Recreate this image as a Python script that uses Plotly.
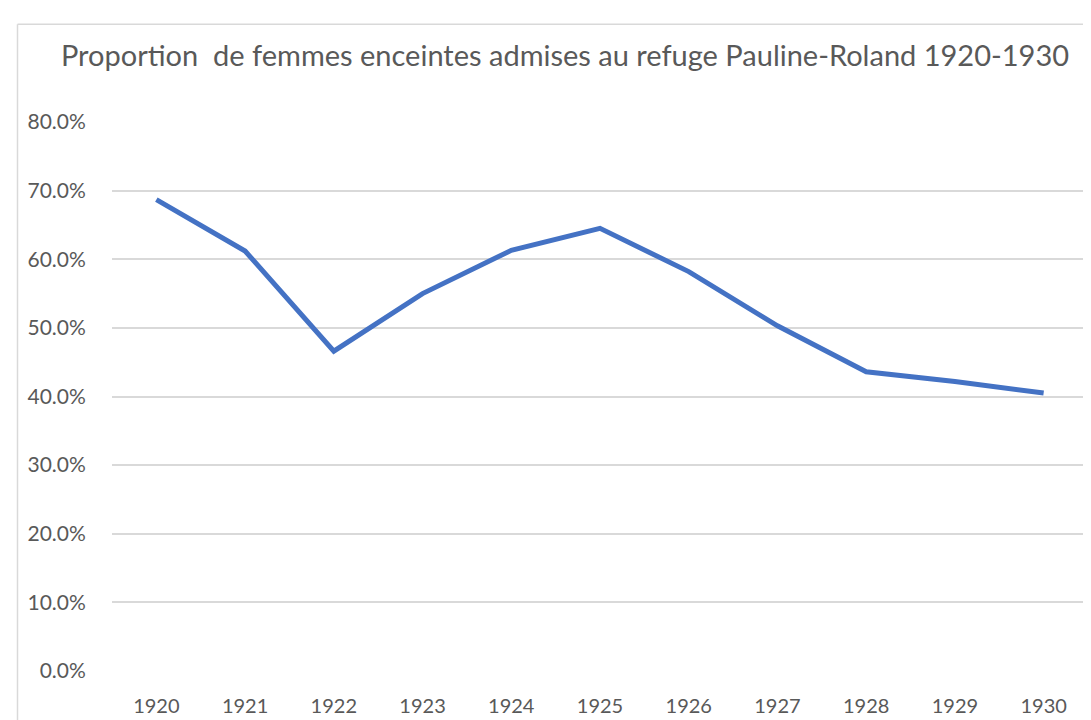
import plotly.graph_objects as go

years = [1920, 1921, 1922, 1923, 1924, 1925, 1926, 1927, 1928, 1929, 1930]
proportion = [0.687, 0.612, 0.466, 0.550, 0.613, 0.645, 0.582, 0.503, 0.436, 0.422, 0.405]
title_text = "Proportion  de femmes enceintes admises au refuge Pauline-Roland 1920-1930"
y_ticks = [0.0, 0.1, 0.2, 0.3, 0.4, 0.5, 0.6, 0.7, 0.8]

W, H = 1091, 720
ML, MR, MT, MB = 104, 11, 114, 50
PW = W - ML - MR
PH = H - MT - MB

def px_x(px):
    return (px - ML) / PW

def px_y(py):
    return (H - MB - py) / PH

font_family = "Lato, 'Open Sans', sans-serif"
grey_text = "#595959"

fig = go.Figure()
fig.add_trace(go.Scatter(
    x=years, y=proportion, mode="lines",
    line=dict(color="#4472C4", width=5),
    showlegend=False,
))

fig.update_layout(
    width=W, height=H,
    margin=dict(l=ML, r=MR, t=MT, b=MB, pad=0),
    paper_bgcolor="white", plot_bgcolor="white",
    title=dict(
        text=title_text,
        x=557 / W, xref="container", xanchor="center",
        y=1 - 48 / H, yref="container", yanchor="middle",
        font=dict(family=font_family, size=29, color=grey_text),
    ),
    xaxis=dict(
        range=[1919.5, 1930.5],
        tickmode="array", tickvals=years, ticktext=[str(y) for y in years],
        showgrid=False, zeroline=False, showline=False,
        ticks="outside", ticklen=17, tickcolor="rgba(0,0,0,0)",
        tickfont=dict(family=font_family, size=20, color=grey_text),
        fixedrange=True,
    ),
    yaxis=dict(
        range=[0, 0.8],
        tickmode="array", tickvals=y_ticks, tickformat=".1%",
        showgrid=True, gridcolor="#D9D9D9", gridwidth=1.5,
        zeroline=False, showline=False,
        ticks="outside", ticklen=21, tickcolor="rgba(0,0,0,0)",
        tickfont=dict(family=font_family, size=21, color=grey_text),
        fixedrange=True,
    ),
    shapes=[
        dict(type="line", xref="paper", yref="paper",
             x0=px_x(9.5), x1=px_x(9.5), y0=px_y(15), y1=px_y(725),
             line=dict(color="#D9D9D9", width=1.5)),
        dict(type="line", xref="paper", yref="paper",
             x0=px_x(9.5), x1=px_x(1095), y0=px_y(15), y1=px_y(15),
             line=dict(color="#D9D9D9", width=1.5)),
    ],
)

fig.write_html("out.html")
